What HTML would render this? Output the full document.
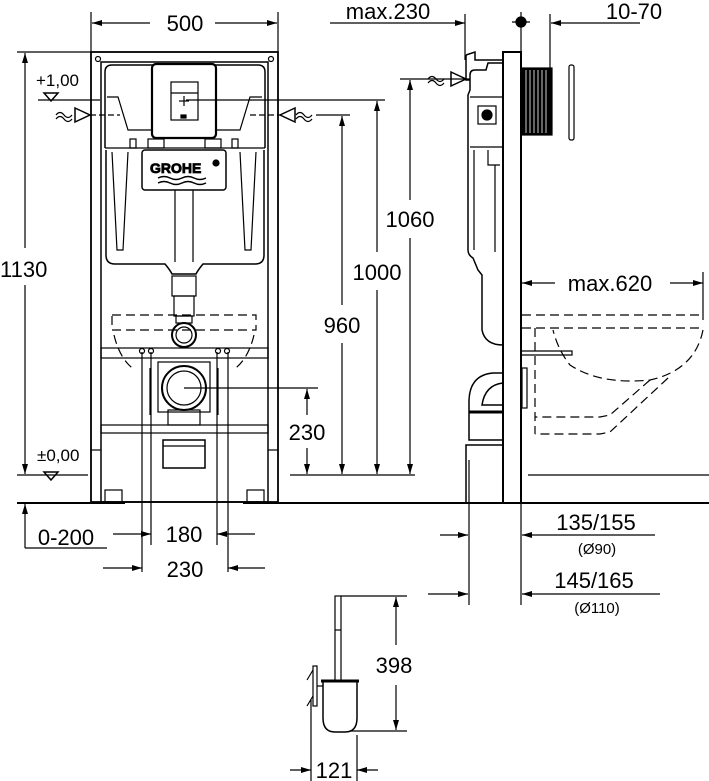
<!DOCTYPE html>
<html><head><meta charset="utf-8"><style>
html,body{margin:0;padding:0;background:#fff;}
svg{display:block;}
text{font-family:"Liberation Sans",sans-serif;fill:#000;}
</style></head><body>
<svg width="709" height="781" viewBox="0 0 709 781" xmlns="http://www.w3.org/2000/svg">
<defs>
<marker id="a" viewBox="0 0 10 6" refX="10" refY="3" markerWidth="10" markerHeight="6" orient="auto-start-reverse" markerUnits="userSpaceOnUse"><path d="M0,0 L10,3 L0,6z" fill="#000"/></marker>
</defs>
<g stroke="#000" fill="none" stroke-width="1.2">
<line x1="91" y1="12" x2="91" y2="52"/><line x1="278" y1="12" x2="278" y2="52"/>
<line x1="92" y1="23" x2="150" y2="23" marker-start="url(#a)"/>
<line x1="215" y1="23" x2="277" y2="23" marker-end="url(#a)"/>
<line x1="17" y1="52" x2="91" y2="52"/>
<line x1="25" y1="53" x2="25" y2="248" marker-start="url(#a)"/>
<line x1="25" y1="285" x2="25" y2="474" marker-end="url(#a)"/>
<line x1="17" y1="475" x2="88" y2="475"/>
<line x1="38" y1="100" x2="100" y2="100"/>
<path d="M44,93 L58,93 L51,101z" stroke-width="1.5"/>
<path d="M44,472 L58,472 L51,480z" stroke-width="1.5"/>
<line x1="17" y1="503" x2="125" y2="503" stroke-width="2"/>
<line x1="243" y1="503" x2="709" y2="503" stroke-width="2"/>
<line x1="25" y1="504" x2="25" y2="548" marker-start="url(#a)"/>
<line x1="25" y1="548" x2="107" y2="548"/>
<rect x="91" y="52" width="187" height="450" stroke-width="1.8"/>
<rect x="101" y="62" width="167" height="440" stroke-width="1.5"/>
<line x1="91" y1="450" x2="101" y2="450"/><line x1="268" y1="450" x2="278" y2="450"/>
<rect x="101" y="348" width="167" height="10"/>
<rect x="101" y="425" width="167" height="8"/>
<rect x="105" y="490" width="17" height="12"/><rect x="247" y="490" width="17" height="12"/>
<circle cx="98" cy="59" r="2.5"/><circle cx="271" cy="59" r="2.5"/>
<path d="M105,148 L105,72 Q105,65 112,65 L258,65 Q265,65 265,72 L265,148" stroke-width="1.5"/>
<line x1="105" y1="148" x2="265" y2="148"/>
<path d="M107,97 L118,97 L128,130 L152,130 M216,130 L240,130 L250,97 L262,97"/>
<rect x="152" y="64" width="64" height="74" rx="4" fill="#fff" stroke-width="2.2"/>
<rect x="171" y="82" width="27" height="38"/>
<line x1="171" y1="93" x2="198" y2="93"/>
<line x1="184" y1="96" x2="184" y2="106"/><line x1="179" y1="101" x2="189" y2="101"/>
<rect x="181" y="115" width="5" height="3" fill="#000"/>
<rect x="130" y="139" width="6" height="9"/><rect x="148" y="139" width="16" height="9"/><rect x="205" y="139" width="16" height="9"/><rect x="232" y="139" width="6" height="9"/>
<path d="M106,150 L106,255 Q106,264 115,264 L165,264 Q170,270 172,274 L196,274 Q198,270 203,264 L255,264 Q264,264 264,255 L264,150" stroke-width="1.5"/>
<path d="M112,152 L117,250 L123,250 L128,152 M240,152 L245,250 L251,250 L256,152"/>
<line x1="175" y1="190" x2="175" y2="262"/><line x1="193" y1="190" x2="193" y2="262"/>
<rect x="142" y="150" width="84" height="40" rx="3" fill="#fff" stroke-width="1.5"/>
<text x="150" y="173" font-size="14" font-weight="bold" fill="none" stroke="#000" stroke-width="0.8">GROHE</text>
<circle cx="216" cy="163" r="3" fill="#000"/>
<path d="M158,178 q6,-3 12,0 t12,0 t12,0 t12,0 M158,183 q6,-3 12,0 t12,0 t12,0 t12,0" stroke-width="1.5"/>
<rect x="172" y="276" width="24" height="20"/><rect x="174" y="296" width="20" height="20"/>
<rect x="176" y="316" width="16" height="7"/>
<circle cx="184" cy="335" r="12" stroke-width="2"/><circle cx="184" cy="335" r="8"/>
<path d="M112,315 L256,315 L256,330 L112,330Z" stroke-dasharray="9,5"/>
<path d="M114,335 Q120,360 135,370 M254,335 Q248,360 233,370" stroke-dasharray="9,5"/>
<circle cx="142" cy="351" r="2.5"/><circle cx="151" cy="351" r="2.5"/><circle cx="218" cy="351" r="2.5"/><circle cx="227" cy="351" r="2.5"/>
<rect x="158" y="362" width="52" height="50"/>
<circle cx="184" cy="388" r="22" stroke-width="2"/><circle cx="184" cy="388" r="17"/>
<rect x="168" y="410" width="32" height="15"/>
<path d="M150,368 L150,415 M218,368 L218,415"/>
<rect x="163" y="440" width="42" height="28" stroke-width="1.5"/><line x1="163" y1="446" x2="205" y2="446"/>
<line x1="142" y1="352" x2="142" y2="572"/><line x1="151" y1="352" x2="151" y2="545"/>
<line x1="217" y1="352" x2="217" y2="545"/><line x1="228" y1="352" x2="228" y2="572"/>
<line x1="113" y1="534" x2="151" y2="534" marker-end="url(#a)"/>
<line x1="255" y1="534" x2="217" y2="534" marker-end="url(#a)"/>
<line x1="103" y1="568" x2="142" y2="568" marker-end="url(#a)"/>
<line x1="265" y1="568" x2="228" y2="568" marker-end="url(#a)"/>
<line x1="184" y1="388" x2="318" y2="388"/>
<line x1="290" y1="475" x2="415" y2="475"/>
<line x1="307" y1="389" x2="307" y2="415" marker-start="url(#a)"/>
<line x1="307" y1="448" x2="307" y2="474" marker-end="url(#a)"/>
<path d="M56,115 q4,-5 8,0 t8,0 M56,119 q4,-5 8,0 t8,0"/>
<path d="M75,108 L90,115 L75,122Z" stroke-width="1.5"/>
<line x1="90" y1="115" x2="120" y2="115" stroke-dasharray="6,3"/>
<path d="M296,115 q4,-5 8,0 t8,0 M296,119 q4,-5 8,0 t8,0"/>
<path d="M295,108 L280,115 L295,122Z" stroke-width="1.5"/>
<line x1="250" y1="115" x2="280" y2="115" stroke-dasharray="6,3"/>
<line x1="316" y1="115" x2="350" y2="115"/>
<line x1="186" y1="100" x2="385" y2="100"/>
<line x1="342" y1="116" x2="342" y2="305" marker-start="url(#a)"/>
<line x1="342" y1="343" x2="342" y2="474" marker-end="url(#a)"/>
<line x1="377" y1="101" x2="377" y2="252" marker-start="url(#a)"/>
<line x1="377" y1="290" x2="377" y2="474" marker-end="url(#a)"/>
<line x1="410" y1="80" x2="410" y2="200" marker-start="url(#a)"/>
<line x1="410" y1="238" x2="410" y2="474" marker-end="url(#a)"/>
<line x1="400" y1="79" x2="470" y2="79"/>
<path d="M428,79 q4,-5 8,0 t8,0 M428,83 q4,-5 8,0 t8,0"/>
<path d="M451,72 L466,79 L451,86Z" stroke-width="1.5"/>
<line x1="330" y1="23" x2="465" y2="23" marker-end="url(#a)"/>
<line x1="465" y1="14" x2="465" y2="60"/>
<circle cx="521" cy="22" r="5" fill="#000"/>
<line x1="521" y1="12" x2="521" y2="52"/><line x1="512" y1="22" x2="530" y2="22"/>
<line x1="550" y1="14" x2="550" y2="68"/>
<line x1="640" y1="23" x2="551" y2="23" marker-end="url(#a)"/>
<rect x="503" y="52" width="18" height="451" stroke-width="2"/>
<path d="M503,63 L488,63 L486,70 L475,70 Q470,70 470,75 L470,90 L468,95 L468,250 Q468,255 473,258 L478,270 L482,275 L482,330 Q485,345 503,345" stroke-width="1.5"/>
<line x1="470" y1="97" x2="503" y2="97"/>
<line x1="470" y1="147" x2="503" y2="147"/>
<rect x="478" y="106" width="18" height="18"/><circle cx="487" cy="115" r="5" fill="#000"/>
<path d="M474,150 L474,250 M488,150 L488,165 L500,165 M495,165 L495,252"/>
<path d="M466,55 L475,52 L475,60 L503,60 M466,55 L466,80 L470,80" stroke-width="1.5"/>
<rect x="522" y="68" width="30" height="67" fill="#000"/>
<g stroke="#fff" stroke-width="0.8"><line x1="526" y1="70" x2="526" y2="133"/><line x1="530" y1="70" x2="530" y2="133"/><line x1="534" y1="70" x2="534" y2="133"/><line x1="538" y1="70" x2="538" y2="133"/><line x1="542" y1="70" x2="542" y2="133"/><line x1="546" y1="70" x2="546" y2="133"/></g>
<rect x="569" y="65" width="5" height="75" rx="2"/>
<path d="M503,373 L493,373 Q470,375 469,400 L469,440 L503,440 M503,383 Q485,385 482,405 L503,405" stroke-width="1.5"/>
<rect x="522" y="368" width="5" height="40"/>
<line x1="469" y1="412" x2="503" y2="412" stroke-width="3"/>
<rect x="466" y="445" width="37" height="58" stroke-width="1.5"/>
<line x1="469" y1="460" x2="469" y2="605"/>
<line x1="522" y1="283" x2="555" y2="283" marker-start="url(#a)"/>
<line x1="670" y1="283" x2="703" y2="283" marker-end="url(#a)"/>
<line x1="703" y1="272" x2="703" y2="320"/>
<g stroke-dasharray="9,5">
<line x1="522" y1="315" x2="703" y2="315"/>
<line x1="522" y1="328" x2="703" y2="328"/>
<path d="M703,330 Q695,370 650,380 Q600,385 570,365 Q558,350 553,330"/>
<path d="M650,380 L610,415 L600,417 L535,417 M668,378 L610,432 L600,434 L535,434 M535,328 L535,434"/>
</g>
<path d="M522,351 L572,351 L572,355 L522,355"/>
<line x1="528" y1="475" x2="709" y2="475"/>
<line x1="521" y1="503" x2="521" y2="605"/>
<line x1="440" y1="535" x2="468" y2="535" marker-end="url(#a)"/>
<line x1="655" y1="535" x2="522" y2="535" marker-end="url(#a)"/>
<line x1="428" y1="594" x2="468" y2="594" marker-end="url(#a)"/>
<line x1="660" y1="594" x2="522" y2="594" marker-end="url(#a)"/>
<rect x="335" y="596" width="6" height="85"/>
<line x1="335" y1="630" x2="341" y2="630"/>
<path d="M323,681 L357,681 L357,718 Q357,732 345,732 L335,732 Q323,732 323,718 Z" stroke-width="1.5"/>
<line x1="321" y1="681" x2="359" y2="681" stroke-width="3"/>
<rect x="313" y="666" width="4" height="40"/>
<line x1="317" y1="686" x2="323" y2="686"/>
<line x1="307" y1="680" x2="313" y2="670"/><line x1="307" y1="706" x2="313" y2="696"/>
<line x1="341" y1="596" x2="407" y2="596"/>
<line x1="350" y1="731" x2="407" y2="731"/>
<line x1="396" y1="597" x2="396" y2="645" marker-start="url(#a)"/>
<line x1="396" y1="685" x2="396" y2="730" marker-end="url(#a)"/>
<line x1="311" y1="700" x2="311" y2="781"/><line x1="357" y1="735" x2="357" y2="781"/>
<line x1="290" y1="770" x2="311" y2="770" marker-end="url(#a)"/>
<line x1="378" y1="770" x2="357" y2="770" marker-end="url(#a)"/>
</g>
<g font-size="22">
<text x="185" y="31" text-anchor="middle">500</text>
<text x="0" y="277">1130</text>
<text x="66" y="545" text-anchor="middle">0-200</text>
<text x="184" y="542" text-anchor="middle">180</text>
<text x="185" y="577" text-anchor="middle">230</text>
<text x="307" y="440" text-anchor="middle">230</text>
<text x="342" y="333" text-anchor="middle">960</text>
<text x="377" y="280" text-anchor="middle">1000</text>
<text x="410" y="227" text-anchor="middle">1060</text>
<text x="388" y="19" text-anchor="middle">max.230</text>
<text x="634" y="19" text-anchor="middle">10-70</text>
<text x="610" y="291" text-anchor="middle">max.620</text>
<text x="596" y="530" text-anchor="middle">135/155</text>
<text x="594" y="588" text-anchor="middle">145/165</text>
<text x="394" y="673" text-anchor="middle">398</text>
<text x="334" y="778" text-anchor="middle">121</text>
</g>
<g font-size="17">
<text x="36" y="86">+1,00</text>
<text x="37" y="461">±0,00</text>
</g>
<g font-size="15">
<text x="597" y="554" text-anchor="middle">(Ø90)</text>
<text x="597" y="613" text-anchor="middle">(Ø110)</text>
</g>
</svg>
</body></html>
